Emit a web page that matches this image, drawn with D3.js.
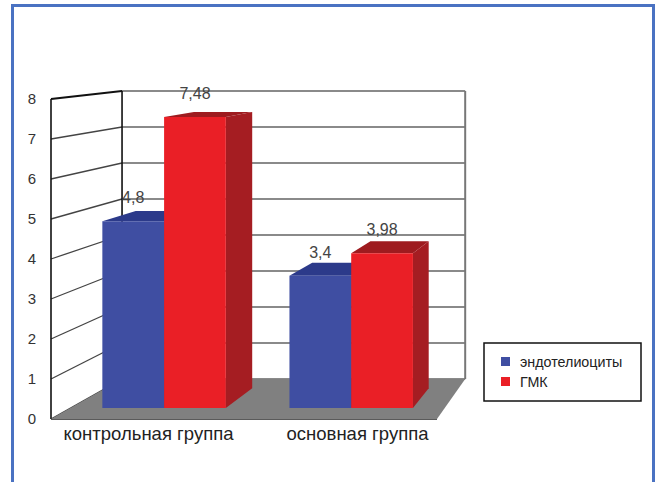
<!DOCTYPE html>
<html><head><meta charset="utf-8">
<script src="https://cdn.jsdelivr.net/npm/d3@7"></script>
<style>
html,body{margin:0;padding:0;background:#fff;}
svg{display:block;font-family:Arial,"Liberation Sans",sans-serif;}
</style></head>
<body>
<svg id="c" width="660" height="482"></svg>
<script>
const categories = ["контрольная группа", "основная группа"];
const seriesNames = ["эндотелиоциты", "ГМК"];
const endothelial = [4.8, 3.4];
const smc = [7.48, 3.98];
const yTicks = [0,1,2,3,4,5,6,7,8];
const valueLabels = [["4,8","3,4"],["7,48","3,98"]];
const colors = [
  {front:"#3f4ea2", top:"#2c3a8a", side:"#27337a"},
  {front:"#ea1f26", top:"#9e1b1f", side:"#a51d22"}
];

const svg = d3.select("#c");
svg.append("rect").attr("x",0).attr("y",0).attr("width",660).attr("height",482).attr("fill","#fff");
svg.append("rect").attr("x",12.5).attr("y",5.5).attr("width",641).attr("height",520)
  .attr("fill","none").attr("stroke","#4a72c2").attr("stroke-width",3);

// front plane scales
const x = d3.scaleBand().domain(categories).range([51,437]).paddingInner(0.34).paddingOuter(0.17);
const xs = d3.scaleBand().domain(seriesNames).range([0, x.bandwidth()]);
const y = d3.scaleLinear().domain([0,8]).range([419,99]);

// perspective projection toward a vanishing point
const VX = 691, VY = 19;
function P(X, v, z){
  const fx = 1 - 0.111*z, fy = 1 - 0.1*z;
  const Y = y(v);
  return [VX + (X-VX)*fx, VY + (Y-VY)*fy];
}
const line = pts => "M" + pts.map(p=>p.join(",")).join("L") + "Z";

const X0 = x.range()[0], X1 = x.range()[1];

// back wall
svg.append("path").attr("d", line([P(X0,0,1),P(X0,8,1),P(X1,8,1),P(X1,0,1)])).attr("fill","#fff");
svg.selectAll(".bgrid").data(yTicks).join("line").attr("class","bgrid")
  .attr("x1",d=>P(X0,d,1)[0]).attr("y1",d=>P(X0,d,1)[1])
  .attr("x2",d=>P(X1,d,1)[0]).attr("y2",d=>P(X1,d,1)[1])
  .attr("stroke","#8a8a8a").attr("stroke-width",2);
// right back edge
svg.append("line").attr("x1",P(X1,0,1)[0]).attr("y1",P(X1,0,1)[1]).attr("x2",P(X1,8,1)[0]).attr("y2",P(X1,8,1)[1])
  .attr("stroke","#777").attr("stroke-width",2);

// left wall gridlines
svg.selectAll(".lgrid").data(yTicks).join("line").attr("class","lgrid")
  .attr("x1",d=>P(X0,d,0)[0]).attr("y1",d=>P(X0,d,0)[1])
  .attr("x2",d=>P(X0,d,1)[0]).attr("y2",d=>P(X0,d,1)[1])
  .attr("stroke",d=>d===8?"#111":"#444").attr("stroke-width",d=>d===8?2:1.3);
// left wall verticals
[0,1].forEach(z=>{
  svg.append("line").attr("x1",P(X0,0,z)[0]).attr("y1",P(X0,0,z)[1]).attr("x2",P(X0,8,z)[0]).attr("y2",P(X0,8,z)[1])
    .attr("stroke","#111").attr("stroke-width",1.6);
});

// floor
svg.append("path").attr("d", line([P(X0,0,0),P(X0,0,1),P(X1,0,1),P(X1,0,0)])).attr("fill","#808080");
svg.append("line").attr("x1",P(X0,0,0)[0]).attr("y1",P(X0,0,0)[1]+0.5).attr("x2",P(X1,0,0)[0]).attr("y2",P(X1,0,0)[1]+0.5)
  .attr("stroke","#5a5a5a").attr("stroke-width",1.2);

// bars
const zF = 0.275, zB = 0.77;
const series = [endothelial, smc];
const bars = [];
categories.forEach((c,ci)=>{
  series.forEach((s,si)=>{
    bars.push({ci, si, v:s[ci], x0:x(c)+xs(seriesNames[si]), x1:x(c)+xs(seriesNames[si])+xs.bandwidth()});
  });
});
const g = svg.append("g");
bars.forEach(b=>{
  const col = colors[b.si];
  // right side
  g.append("path").attr("d", line([P(b.x1,0,zF),P(b.x1,b.v,zF),P(b.x1,b.v,zB),P(b.x1,0,zB)])).attr("fill",col.side);
  // top
  g.append("path").attr("d", line([P(b.x0,b.v,zF),P(b.x0,b.v,zB),P(b.x1,b.v,zB),P(b.x1,b.v,zF)])).attr("fill",col.top);
  // front
  g.append("path").attr("d", line([P(b.x0,0,zF),P(b.x0,b.v,zF),P(b.x1,b.v,zF),P(b.x1,0,zF)])).attr("fill",col.front);
});
// value labels
bars.forEach(b=>{
  const p = P((b.x0+b.x1)/2, b.v, zF);
  svg.append("text").attr("x",p[0]).attr("y",p[1]-18).attr("text-anchor","middle")
    .attr("font-size",16).attr("fill","#444").text(valueLabels[b.si][b.ci]);
});

// y tick labels
svg.selectAll(".yt").data(yTicks).join("text").attr("class","yt")
  .attr("x",32).attr("y",d=>y(d)).attr("dy","0.36em").attr("text-anchor","middle")
  .attr("font-size",15).attr("fill","#333").text(d=>d);

// category labels
const catNudge = [1, 17];
svg.selectAll(".cat").data(categories).join("text").attr("class","cat")
  .attr("x",(d,i)=>x(d)+x.bandwidth()/2+catNudge[i]).attr("y",440).attr("text-anchor","middle")
  .attr("font-size",18.5).attr("fill","#222").text(d=>d);

// legend
const lg = svg.append("g").attr("transform","translate(484,343)");
lg.append("rect").attr("width",157).attr("height",58).attr("fill","#fff").attr("stroke","#111").attr("stroke-width",1.5);
seriesNames.forEach((n,i)=>{
  lg.append("rect").attr("x",17).attr("y",14+i*20).attr("width",9).attr("height",9).attr("fill",colors[i].front);
  lg.append("text").attr("x",36).attr("y",18.5+i*20).attr("dy","0.36em").attr("font-size",14.3).attr("fill","#222").text(n);
});
</script>
</body></html>
